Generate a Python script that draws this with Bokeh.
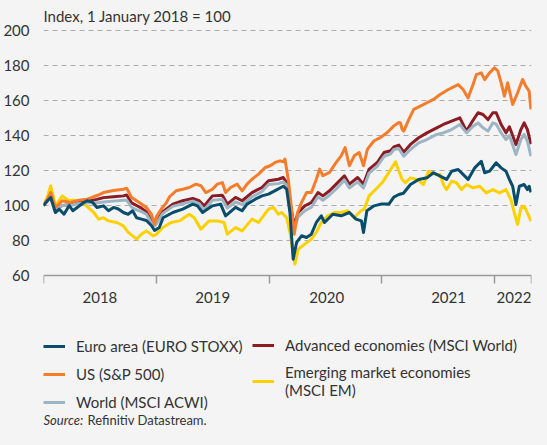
from bokeh.plotting import figure
from bokeh.models import Legend, LegendItem, Label, FixedTicker, Range1d
from bokeh.embed import file_html
from bokeh.resources import INLINE

# ---------------- data (decimal years, index 1 Jan 2018 = 100) ----------------
euro_t = [2018.000, 2018.035, 2018.064, 2018.105, 2018.140, 2018.182, 2018.228, 2018.260, 2018.357, 2018.386,
          2018.430, 2018.474, 2018.532, 2018.576, 2018.620, 2018.664, 2018.708, 2018.750, 2018.790, 2018.825,
          2018.868, 2018.912, 2018.956, 2018.985, 2019.026, 2019.060, 2019.146, 2019.234, 2019.322, 2019.365,
          2019.410, 2019.497, 2019.570, 2019.614, 2019.702, 2019.760, 2019.804, 2019.877, 2019.936, 2019.994,
          2020.053, 2020.125, 2020.155, 2020.184, 2020.213, 2020.243, 2020.287, 2020.331, 2020.374, 2020.418,
          2020.462, 2020.491, 2020.564, 2020.638, 2020.711, 2020.769, 2020.818, 2020.836, 2020.866, 2020.930,
          2020.989, 2021.061, 2021.105, 2021.149, 2021.190, 2021.252, 2021.325, 2021.398, 2021.456, 2021.515,
          2021.573, 2021.617, 2021.675, 2021.734, 2021.763, 2021.822, 2021.880, 2021.910, 2021.953, 2022.012,
          2022.056, 2022.099, 2022.129, 2022.158, 2022.187, 2022.217, 2022.260, 2022.289, 2022.304, 2022.320]
euro_v = [100, 102.7, 104.6, 96, 97.9, 95, 100, 97, 101.7, 102.7,
          102.1, 98.9, 99.8, 97, 98.9, 98, 96, 95, 97, 93,
          92.2, 91.4, 88.6, 85.7, 87.4, 93, 96, 97.9, 100.8, 99.8,
          96, 99.8, 100.8, 94.1, 98.9, 97, 100.8, 103.6, 105.5, 106.5,
          108.5, 111, 109.3, 96, 69.3, 78.9, 82.7, 81.7, 83.6, 90.3,
          94.1, 90.3, 95, 94.1, 96, 92.2, 91.2, 84.6, 97, 99.8,
          100.8, 100.8, 104.8, 106.3, 107, 112, 114.9, 115.8, 118.7, 116.8,
          114.9, 119.6, 120.6, 116.8, 114.9, 121.5, 125.3, 118.7, 119.6, 124.4,
          121.5, 119.6, 114.9, 111, 100.6, 111, 112, 109.1, 111, 107.5]

us_t = [2018.000, 2018.035, 2018.064, 2018.105, 2018.167, 2018.240, 2018.298, 2018.386, 2018.430, 2018.474,
        2018.532, 2018.620, 2018.708, 2018.737, 2018.781, 2018.825, 2018.868, 2018.912, 2018.956, 2018.985,
        2019.000, 2019.044, 2019.088, 2019.117, 2019.175, 2019.234, 2019.292, 2019.351, 2019.395, 2019.439,
        2019.497, 2019.541, 2019.585, 2019.614, 2019.658, 2019.716, 2019.761, 2019.804, 2019.848, 2019.906,
        2019.965, 2020.009, 2020.053, 2020.096, 2020.125, 2020.140, 2020.169, 2020.199, 2020.222, 2020.252,
        2020.287, 2020.331, 2020.374, 2020.418, 2020.447, 2020.476, 2020.535, 2020.594, 2020.638, 2020.673,
        2020.711, 2020.754, 2020.798, 2020.836, 2020.871, 2020.930, 2020.989, 2021.047, 2021.105, 2021.149,
        2021.164, 2021.178, 2021.193, 2021.237, 2021.281, 2021.339, 2021.398, 2021.456, 2021.515, 2021.588,
        2021.675, 2021.719, 2021.763, 2021.807, 2021.836, 2021.880, 2021.910, 2021.953, 2021.997, 2022.026,
        2022.056, 2022.085, 2022.114, 2022.158, 2022.202, 2022.246, 2022.275, 2022.304, 2022.320]
us_v = [100, 103.6, 107.4, 98.9, 102.7, 101.7, 102.8, 103.6, 104.6, 105.7,
        107.4, 108.6, 109.3, 109.9, 104.6, 102.7, 100.8, 98.9, 95, 89.3,
        93.5, 98, 101.5, 105, 108.4, 109.3, 110.3, 112.2, 111.3, 107.4,
        109.3, 112.2, 113.1, 107.4, 110.3, 112.2, 108.4, 112.2, 115, 117.9,
        121.7, 122.7, 124.6, 125.5, 125, 126.5, 115, 97.9, 83.6, 96,
        101.7, 107.4, 107.4, 115, 120.8, 117, 118.9, 124.6, 128.4, 133.1,
        122.7, 128.4, 130.3, 122.7, 132.2, 137, 138.9, 141.7, 145.5, 147.4,
        147.2, 143.6, 142.5, 149.1, 154.9, 156.8, 158.7, 160.6, 163.4, 166.3,
        169.1, 166.3, 161.5, 169.1, 174.8, 175.8, 171.9, 175.8, 178.7, 177,
        170.1, 162.5, 170.1, 157.7, 164.4, 172, 168.2, 165.3, 155]

acwi_t = [2018.000, 2018.035, 2018.064, 2018.105, 2018.167, 2018.240, 2018.298, 2018.386, 2018.474, 2018.532,
          2018.620, 2018.708, 2018.737, 2018.781, 2018.825, 2018.868, 2018.912, 2018.956, 2018.985, 2019.000,
          2019.058, 2019.146, 2019.234, 2019.322, 2019.380, 2019.424, 2019.497, 2019.585, 2019.629, 2019.702,
          2019.761, 2019.848, 2019.936, 2019.994, 2020.082, 2020.125, 2020.155, 2020.184, 2020.222, 2020.257,
          2020.316, 2020.374, 2020.433, 2020.476, 2020.535, 2020.594, 2020.667, 2020.711, 2020.784, 2020.836,
          2020.886, 2020.959, 2021.018, 2021.076, 2021.105, 2021.149, 2021.193, 2021.252, 2021.325, 2021.398,
          2021.485, 2021.544, 2021.617, 2021.690, 2021.749, 2021.807, 2021.851, 2021.895, 2021.939, 2021.982,
          2022.012, 2022.056, 2022.099, 2022.129, 2022.187, 2022.231, 2022.260, 2022.289, 2022.320]
acwi_v = [100, 103.5, 105.5, 98, 100, 100, 101, 101.5, 101.5, 102,
          102.5, 103, 103, 99, 97.5, 96.5, 95, 90, 88.5, 89.5,
          95.5, 99.5, 101, 102.5, 101, 97.5, 103, 103.5, 98.5, 102,
          100.5, 105, 108, 112, 112.5, 113.5, 111.5, 99.5, 86.5, 93.5,
          97, 99, 105, 103, 106, 109.5, 114.5, 110, 113.5, 110,
          118.5, 122.5, 128, 129.5, 132, 132.5, 128.2, 132, 135.8, 137.7,
          140.6, 141.5, 143.4, 146.3, 141.5, 145.3, 147.2, 144.4, 142.5, 147.2,
          146.5, 141.5, 137.7, 140, 129.1, 137.7, 140.6, 136.8, 128.2]

world_t = [2018.000, 2018.035, 2018.064, 2018.105, 2018.167, 2018.240, 2018.298, 2018.386, 2018.474, 2018.532,
           2018.620, 2018.708, 2018.737, 2018.781, 2018.825, 2018.868, 2018.912, 2018.956, 2018.985, 2019.000,
           2019.058, 2019.146, 2019.234, 2019.322, 2019.380, 2019.424, 2019.497, 2019.585, 2019.629, 2019.702,
           2019.761, 2019.848, 2019.936, 2019.994, 2020.082, 2020.125, 2020.155, 2020.184, 2020.222, 2020.257,
           2020.316, 2020.374, 2020.433, 2020.476, 2020.535, 2020.594, 2020.667, 2020.711, 2020.784, 2020.836,
           2020.886, 2020.959, 2021.018, 2021.076, 2021.105, 2021.149, 2021.193, 2021.252, 2021.325, 2021.398,
           2021.485, 2021.544, 2021.617, 2021.690, 2021.749, 2021.792, 2021.851, 2021.895, 2021.939, 2021.982,
           2022.012, 2022.056, 2022.099, 2022.129, 2022.187, 2022.231, 2022.260, 2022.289, 2022.320]
world_v = [100, 103, 105, 98, 100, 100.5, 101.5, 102.5, 103.5, 104.5,
           105, 105.5, 106, 101.5, 100, 98.5, 96.5, 91, 89, 90.3,
           96.5, 100.8, 102.7, 104, 102.7, 99.8, 105.5, 105.9, 100.8, 104.6,
           102.7, 107.4, 110.3, 114.1, 115, 116, 113.1, 101.7, 88.4, 96,
           99.8, 101.7, 107.4, 105.5, 108.4, 112.2, 117, 112.2, 116, 112.2,
           120.8, 124.6, 130.3, 131.3, 133.5, 134.5, 130.5, 134.9, 138.7, 141.5,
           144.4, 146.3, 148.2, 150.1, 142.5, 147.2, 153, 152, 149.1, 153,
           153, 146.3, 141.5, 145, 134.8, 143.4, 147.2, 143.4, 135]

em_t = [2018.000, 2018.035, 2018.064, 2018.105, 2018.167, 2018.225, 2018.269, 2018.357, 2018.445, 2018.489,
        2018.532, 2018.576, 2018.649, 2018.708, 2018.751, 2018.825, 2018.868, 2018.912, 2018.971, 2019.000,
        2019.058, 2019.131, 2019.204, 2019.292, 2019.336, 2019.395, 2019.468, 2019.541, 2019.600, 2019.629,
        2019.702, 2019.760, 2019.848, 2019.906, 2019.994, 2020.038, 2020.082, 2020.111, 2020.155, 2020.184,
        2020.228, 2020.257, 2020.316, 2020.374, 2020.418, 2020.462, 2020.520, 2020.579, 2020.638, 2020.696,
        2020.754, 2020.813, 2020.842, 2020.886, 2020.945, 2021.003, 2021.061, 2021.120, 2021.150, 2021.178,
        2021.208, 2021.252, 2021.310, 2021.368, 2021.412, 2021.471, 2021.515, 2021.544, 2021.573, 2021.617,
        2021.661, 2021.705, 2021.749, 2021.807, 2021.866, 2021.924, 2021.982, 2022.041, 2022.099, 2022.143,
        2022.173, 2022.202, 2022.231, 2022.260, 2022.289, 2022.320]
em_v = [100, 105, 111.3, 99.8, 105.5, 102.7, 103, 101, 96, 92.2,
        93, 91.2, 90.3, 88.4, 84.6, 80.8, 83.6, 85.5, 82.7, 83.5,
        87.4, 90.3, 91.2, 95, 93, 86.5, 91.2, 91.2, 90.3, 83.6,
        87.4, 85.5, 92.2, 90.3, 97.9, 98.9, 95, 96, 93, 84.6,
        66.5, 75, 77.9, 80.8, 84.6, 90.3, 94.1, 96, 96, 97,
        93, 97, 97.9, 105.5, 109.3, 113.1, 118.9, 125, 119.6, 115,
        113, 115.8, 114.9, 112, 119.6, 117.7, 117.7, 112, 109.1, 113.9,
        113, 109.1, 112, 110.1, 111, 107.2, 109.1, 107.2, 109.1, 103.4,
        95.8, 89.1, 98.7, 99.6, 95.8, 91]

series = [
    ("Euro area (EURO STOXX)", euro_t, euro_v, "#0a4d6b"),
    ("US (S&P 500)", us_t, us_v, "#f47c2a"),
    ("World (MSCI ACWI)", acwi_t, acwi_v, "#9cb4c4"),
    ("Advanced economies (MSCI World)", world_t, world_v, "#8b1c24"),
    ("Emerging market economies\n(MSCI EM)", em_t, em_v, "#fdd000"),
]

y_ticks = [60, 80, 100, 120, 140, 160, 180, 200]
year_bounds = [2018, 2019, 2020, 2021, 2022, 2022.325]
year_label_pos = [2018.5, 2019.5, 2020.51, 2021.59, 2022.17]
year_labels = ["2018", "2019", "2020", "2021", "2022"]

BG = "#f4f4f4"
TXT = "#333333"
FONT = "Lato"

# frame spans the full height so that title, legend and source sit inside it;
# the y-range is widened accordingly (data area 60..200).
p = figure(width=535, height=429, output_backend="svg", toolbar_location=None,
           x_range=Range1d(2018.0, 2022.325), y_range=Range1d(-28, 217.14),
           min_border_left=38, min_border_right=4, min_border_top=0, min_border_bottom=0,
           background_fill_color=BG, border_fill_color=BG, outline_line_color=None)

# axes
p.yaxis.ticker = FixedTicker(ticks=y_ticks)
p.yaxis.axis_line_color = None
p.yaxis.major_tick_line_color = None
p.yaxis.minor_tick_line_color = None
p.yaxis.major_label_standoff = 8
p.yaxis.major_label_text_font = FONT
p.yaxis.major_label_text_font_size = "15px"
p.yaxis.major_label_text_color = TXT

p.xaxis.fixed_location = 60
p.xaxis.ticker = FixedTicker(ticks=year_label_pos, minor_ticks=year_bounds)
p.xaxis.major_label_overrides = {pos: lab for pos, lab in zip(year_label_pos, year_labels)}
p.xaxis.major_tick_line_color = None
p.xaxis.major_tick_out = 0
p.xaxis.major_tick_in = 0
p.xaxis.minor_tick_out = 8
p.xaxis.minor_tick_in = 0
p.xaxis.minor_tick_line_color = "#9a9a9a"
p.xaxis.minor_tick_line_width = 1.5
p.xaxis.axis_line_color = "#9a9a9a"
p.xaxis.axis_line_width = 1.5
p.xaxis.major_label_standoff = 9
p.xaxis.major_label_text_font = FONT
p.xaxis.major_label_text_font_size = "15px"
p.xaxis.major_label_text_color = TXT

p.xgrid.grid_line_color = None
p.ygrid.ticker = FixedTicker(ticks=y_ticks[1:])
p.ygrid.grid_line_color = "#ababab"
p.ygrid.grid_line_dash = "5 4"
p.ygrid.grid_line_width = 1

# lines (draw order)
renderers = {}
for idx in [4, 3, 2, 1, 0]:
    name, t, v, col = series[idx]
    renderers[idx] = p.line(t, v, line_color=col, line_width=3, line_join="round")

# legends
common = dict(padding=0, margin=0, spacing=8, label_height=20, glyph_height=20, glyph_width=22,
              label_standoff=11, label_text_font=FONT, label_text_font_size="15px",
              label_text_color=TXT, border_line_color=None, background_fill_alpha=0)
leg1 = Legend(items=[LegendItem(label=series[i][0], renderers=[renderers[i]]) for i in [0, 1, 2]],
              location=(0, 17), **common)
leg2 = Legend(items=[LegendItem(label=series[i][0], renderers=[renderers[i]]) for i in [3, 4]],
              location=(209, 30), **common)
p.add_layout(leg1)
p.add_layout(leg2)

# title and source
p.add_layout(Label(x=2018.0, y=208.3, text="Index, 1 January 2018 = 100", text_font=FONT,
                   text_font_size="15px", text_color=TXT, text_baseline="middle"))
p.add_layout(Label(x=2018.0, y=-22.3, text="Source:", text_font=FONT, text_font_style="italic",
                   text_font_size="13px", text_color=TXT, text_baseline="middle"))
p.add_layout(Label(x=2018.39, y=-22.3, text="Refinitiv Datastream.", text_font=FONT,
                   text_font_size="13px", text_color=TXT, text_baseline="middle"))

html = file_html(p, INLINE)
html = html.replace("</head>", "<style>body{background:#f4f4f4;}</style></head>", 1)
open("out.html", "w").write(html)
